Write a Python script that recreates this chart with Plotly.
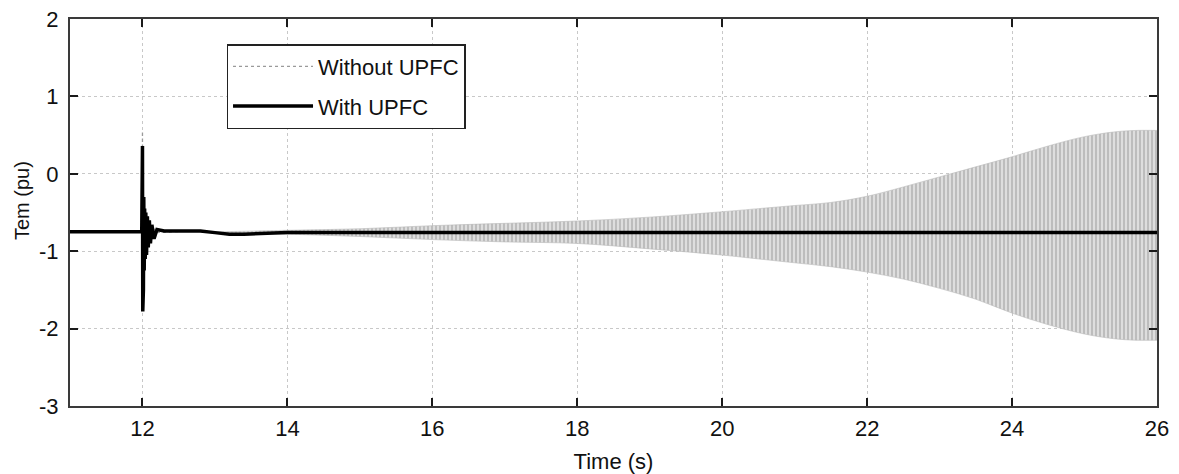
import plotly.graph_objects as go

# ---------------- data ----------------
# "With UPFC" electromagnetic torque (pu)
t_with = [11.0, 11.99, 12.0, 12.004, 12.008, 12.013, 12.018, 12.024, 12.03, 12.038,
          12.046, 12.056, 12.068, 12.08, 12.095, 12.11, 12.13, 12.16, 12.2, 12.3,
          12.5, 12.8, 13.0, 13.2, 13.4, 13.6, 13.8, 14.0, 15.0, 16.0, 17.0, 18.0,
          19.0, 20.0, 21.0, 22.0, 23.0, 24.0, 25.0, 26.0]
tem_with = [-0.75, -0.75, 0.36, -1.78, 0.0, -1.5, -0.3, -1.25, -0.45, -1.1,
            -0.5, -1.05, -0.55, -0.95, -0.6, -0.9, -0.66, -0.84, -0.72, -0.74,
            -0.74, -0.74, -0.76, -0.78, -0.78, -0.77, -0.77, -0.76, -0.76, -0.76, -0.76, -0.76,
            -0.76, -0.76, -0.76, -0.76, -0.76, -0.76, -0.76, -0.76]

# "Without UPFC": fault transient around t = 12 s
t_without = [11.0, 11.995, 12.0, 12.005, 12.01, 12.016, 12.022, 12.03, 12.04, 12.06,
             12.1, 12.2, 12.6, 13.0]
tem_without = [-0.75, -0.75, 0.55, -1.72, 0.05, -1.4, -0.35, -1.2, -0.5, -1.0,
               -0.65, -0.76, -0.74, -0.75]

# "Without UPFC": envelope of the growing oscillation
t_env = [13.0, 14.0, 15.0, 16.0, 17.0, 18.0, 19.0, 20.0, 20.5, 21.0, 21.5, 22.0,
         22.5, 23.0, 23.5, 24.0, 24.5, 25.0, 25.4, 25.7, 26.0]
env_upper = [-0.75, -0.73, -0.71, -0.67, -0.64, -0.61, -0.56, -0.49, -0.45, -0.41, -0.37, -0.29,
             -0.17, -0.04, 0.09, 0.22, 0.36, 0.48, 0.54, 0.56, 0.56]
env_lower = [-0.76, -0.78, -0.81, -0.85, -0.88, -0.90, -0.97, -1.05, -1.10, -1.15, -1.20, -1.27,
             -1.36, -1.48, -1.62, -1.80, -1.95, -2.07, -2.13, -2.15, -2.15]

x_ticks = [12, 14, 16, 18, 20, 22, 24, 26]
x_ticktext = ["12", "14", "16", "18", "20", "22", "24", "26"]
y_ticks = [2, 1, 0, -1, -2, -3]
y_ticktext = ["2", "1", "0", "-1", "-2", "-3"]

# ---------------- figure ----------------
FONT = "Liberation Sans, Arial, sans-serif"
TXT = "#111111"

fig = go.Figure()

fig.add_trace(go.Scatter(
    x=t_env, y=env_upper, mode="lines", line_shape="spline",
    line=dict(color="#b8b8b8", width=0.6),
    showlegend=False, hoverinfo="skip"))
fig.add_trace(go.Scatter(
    x=t_env, y=env_lower, mode="lines", fill="tonexty", line_shape="spline",
    line=dict(color="#b8b8b8", width=0.6),
    fillcolor="#d8d8d8",
    fillpattern=dict(shape="|", size=4, solidity=0.25,
                     fgcolor="#9c9c9c", bgcolor="#dedede", fillmode="replace"),
    showlegend=False, hoverinfo="skip"))
fig.add_trace(go.Scatter(
    x=t_without, y=tem_without, mode="lines", name="Without UPFC",
    line=dict(color="#9a9a9a", width=1.3, dash="dot"),
    legendgroup="a"))
fig.add_trace(go.Scatter(
    x=t_with, y=tem_with, mode="lines", name="With UPFC",
    line=dict(color="#000000", width=3.5),
    legendgroup="b"))

axis_common = dict(
    showline=True, linecolor="#3a3a3a", linewidth=2, mirror="ticks",
    ticks="inside", ticklen=8, tickwidth=2, tickcolor="#1a1a1a",
    showgrid=True, gridcolor="#c8c8c8", gridwidth=1, griddash="dot",
    zeroline=False, automargin=False,
    tickfont=dict(family=FONT, size=22, color=TXT),
)

fig.update_xaxes(range=[11, 26], tickmode="array", tickvals=x_ticks, ticktext=x_ticktext,
                 ticklabelstandoff=2,
                 title=dict(text="Time (s)", font=dict(family=FONT, size=22, color=TXT),
                            standoff=14),
                 **axis_common)
fig.update_yaxes(range=[-3, 2], tickmode="array", tickvals=y_ticks, ticktext=y_ticktext,
                 ticklabelstandoff=5,
                 **axis_common)

fig.add_annotation(
    text="Tem (pu)", textangle=-90, showarrow=False,
    xref="paper", yref="paper", x=-0.0442, y=0.532, xanchor="center", yanchor="middle",
    font=dict(family=FONT, size=20, color=TXT))

fig.update_layout(
    width=1179, height=474,
    margin=dict(l=70, r=22, t=19, b=68),
    paper_bgcolor="white", plot_bgcolor="white",
    font=dict(family=FONT, size=22, color=TXT),
    legend=dict(x=0.144, y=0.935, xanchor="left", yanchor="top",
                bgcolor="white", bordercolor="#222222", borderwidth=1.5,
                font=dict(family=FONT, size=22, color=TXT),
                itemwidth=80, tracegroupgap=8),
    showlegend=True,
)

fig.write_html("out.html")
